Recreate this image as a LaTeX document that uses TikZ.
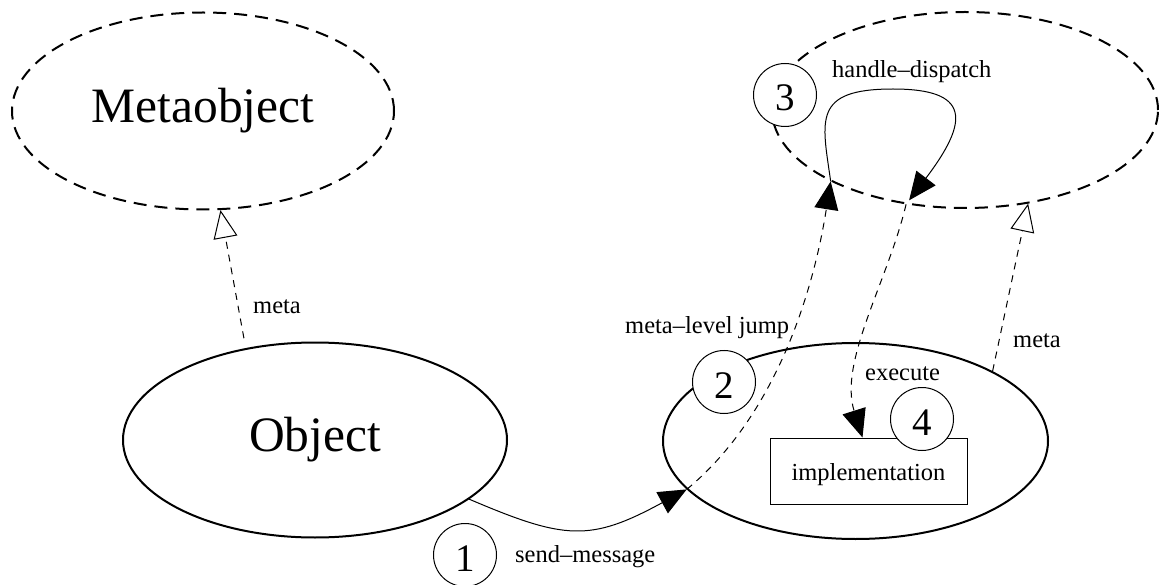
\documentclass[tikz,border=0pt]{standalone}
\usepackage{fontspec}
\setmainfont{Liberation Serif}
\usetikzlibrary{shapes.geometric,arrows.meta}

\tikzset{
  bigtext/.style={font=\fontsize{49.5}{55}\selectfont},
  smalltext/.style={font=\fontsize{24.5}{28}\selectfont},
  objsolid/.style={ellipse, draw, line width=2pt, inner sep=0pt, bigtext},
  objmeta/.style={ellipse, draw, line width=2pt, dash pattern=on 13pt off 8pt, inner sep=0pt, bigtext},
  stepnum/.style={circle, draw, line width=1pt, fill=white, minimum size=63pt,
    inner sep=0pt, font=\fontsize{39}{40}\selectfont, text height=32pt, text depth=0pt},
  lbl/.style={smalltext, inner sep=0pt, anchor=base west},
  implbox/.style={draw, line width=1pt, fill=white, minimum width=197pt,
    minimum height=66pt, inner sep=0pt, smalltext, text height=18pt, text depth=0pt},
  msg/.style={line width=1pt, -{Triangle[length=28pt,width=24pt]}},
  msgdash/.style={msg, dash pattern=on 7pt off 6pt},
  metalink/.style={line width=1pt, dash pattern=on 7pt off 6pt,
    -{Triangle[open,length=28pt,width=24pt]}},
}

\begin{document}
\begin{tikzpicture}[x=1pt, y=-1pt]
  \useasboundingbox (0,0) rectangle (1159,585);

  % objects and their metaobjects
  \node[objmeta, minimum width=382pt, minimum height=197pt] (meta) at (203,111) {Metaobject};
  \node[objsolid, minimum width=384pt, minimum height=195pt] (obj) at (315,440) {Object};
  \node[objmeta, minimum width=386pt, minimum height=196pt] (rmeta) at (965,110) {};
  \node[objsolid, minimum width=385pt, minimum height=196pt] (robj) at (855.5,441) {};
  \node[implbox] (impl) at (868.5,471) {implementation};

  % meta links
  \draw[metalink, shorten <=10pt] (obj.127) -- (meta.-80);
  \draw[metalink] (robj.27) -- (rmeta.-56);

  % message send and reflective dispatch
  \draw[msg] (obj.-21.5) .. controls (565,540) and (590,542) .. (robj.196);
  \draw[msgdash] (robj.196) .. controls (772,419) and (812,300) .. (rmeta.208.6);
  \coordinate (hdtop) at (893,89);
  \draw[msg, shorten >=5pt] (rmeta.208.6) .. controls (822,120) and (812,89) .. (hdtop)
        .. controls (970,89) and (970,120) .. (rmeta.238);
  \draw[msgdash] (rmeta.238) .. controls (888,281) and (838.5,361.5) .. ([xshift=-6pt]impl.north);

  % labels
  \node[lbl] (lmeta) at (253,313) {meta};
  \node[lbl] (rmetalbl) at (1013,347) {meta};
  \node[lbl] (jump) at (625,333) {meta–level jump};
  \node[lbl] (exec) at (865,380) {execute};
  \node[lbl] (hd) at (832,78) {handle–dispatch};
  \node[lbl] (send) at (515,562) {send–message};

  % step numbers
  \node[stepnum] (s1) at (465,555) {1};
  \node[stepnum] (s2) at (724,382) {2};
  \node[stepnum] (s3) at (785,95) {3};
  \node[stepnum] (s4) at (922,419) {4};
\end{tikzpicture}
\end{document}
